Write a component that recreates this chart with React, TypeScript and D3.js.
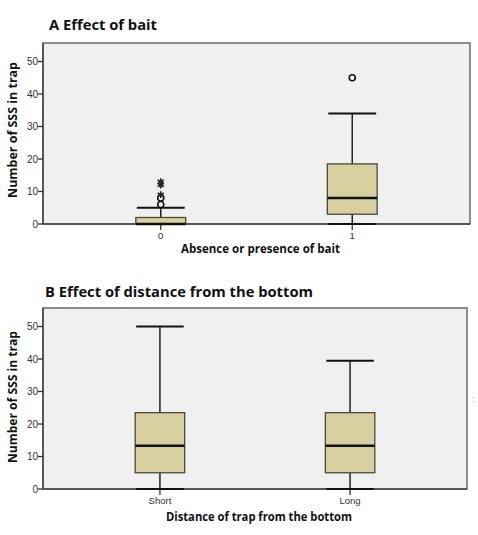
import * as d3 from "d3";

// Panel A: effect of bait
const baitCategories = ["0", "1"];
const baitLowerWhisker = [0, 0];
const baitQ1 = [0, 3];
const baitMedian = [0, 8];
const baitQ3 = [2, 18.5];
const baitUpperWhisker = [5, 34];
const baitOutliers = [[6, 8], [45]];
const baitExtremes = [[9, 12, 13], []];

// Panel B: distance of trap from the bottom
const distCategories = ["Short", "Long"];
const distLowerWhisker = [0, 0];
const distQ1 = [5, 5];
const distMedian = [13.3, 13.3];
const distQ3 = [23.5, 23.5];
const distUpperWhisker = [50, 39.5];
const distOutliers = [[], []];
const distExtremes = [[], []];

const yTicks = [0, 10, 20, 30, 40, 50];

const boxFill = "#d8d0a0";
const frameFill = "#f0f0f0";

type PanelProps = {
  top: number;
  bottom: number;
  left: number;
  right: number;
  title: string;
  titleX: number;
  titleY: number;
  titleLen: number;
  xTitle: string;
  xTitleX: number;
  xTitleY: number;
  xTitleLen: number;
  labelY: number;
  labelSize: number;
  categories: string[];
  lower: number[];
  q1: number[];
  median: number[];
  q3: number[];
  upper: number[];
  outliers: number[][];
  extremes: number[][];
};

const Panel = (p: PanelProps) => {
  const x = d3
    .scalePoint()
    .domain(p.categories)
    .range([p.left, p.right])
    .padding(0.615);
  const y = d3.scaleLinear().domain([0, 55.7]).range([p.bottom, p.top]);
  const step = x.step();
  const boxW = step * 0.26;
  const capW = step * 0.125;
  const star = d3.symbol(d3.symbolAsterisk, 36);

  return (
    <g>
      <text
        x={p.titleX}
        y={p.titleY}
        fontFamily="Open Sans"
        fontWeight="bold"
        fontSize={15}
        textLength={p.titleLen}
        lengthAdjust="spacingAndGlyphs"
        fill="#111"
      >
        {p.title}
      </text>
      <rect
        x={p.left}
        y={p.top}
        width={p.right - p.left}
        height={p.bottom - p.top}
        fill={frameFill}
        stroke="#6a6a6a"
        strokeWidth={1.5}
      />
      {/* y axis */}
      <line x1={p.left} x2={p.left} y1={p.top} y2={p.bottom} stroke="#333" strokeWidth={1.2} />
      {yTicks.map((t) => (
        <g key={t}>
          <line x1={p.left - 5} x2={p.left} y1={y(t)} y2={y(t)} stroke="#333" strokeWidth={1.3} />
          <text
            x={p.left - 5}
            y={y(t) + 3.5}
            textAnchor="end"
            fontFamily="Liberation Sans"
            fontSize={10}
            fill="#333"
          >
            {t}
          </text>
        </g>
      ))}
      {/* x axis */}
      <line x1={p.left} x2={p.right} y1={p.bottom} y2={p.bottom} stroke="#444" strokeWidth={1.5} />
      {p.categories.map((c) => (
        <g key={c}>
          <line x1={x(c)} x2={x(c)} y1={p.bottom} y2={p.bottom + 6} stroke="#333" strokeWidth={1.3} />
          <text
            x={x(c)}
            y={p.bottom + 15}
            textAnchor="middle"
            fontFamily="Liberation Sans"
            fontSize={9.5}
            fill="#333"
          >
            {c}
          </text>
        </g>
      ))}
      {/* boxes */}
      {p.categories.map((c, i) => {
        const cx = x(c) as number;
        return (
          <g key={"box" + c}>
            <line x1={cx} x2={cx} y1={y(p.lower[i])} y2={y(p.q1[i])} stroke="#222" strokeWidth={1.5} />
            <line x1={cx} x2={cx} y1={y(p.q3[i])} y2={y(p.upper[i])} stroke="#222" strokeWidth={1.5} />
            <line x1={cx - capW} x2={cx + capW} y1={y(p.upper[i])} y2={y(p.upper[i])} stroke="#111" strokeWidth={2} />
            <line x1={cx - capW} x2={cx + capW} y1={y(p.lower[i])} y2={y(p.lower[i])} stroke="#111" strokeWidth={2} />
            <rect
              x={cx - boxW / 2}
              y={y(p.q3[i])}
              width={boxW}
              height={y(p.q1[i]) - y(p.q3[i])}
              fill={boxFill}
              stroke="#4a4a3a"
              strokeWidth={1.3}
            />
            <line
              x1={cx - boxW / 2}
              x2={cx + boxW / 2}
              y1={y(p.median[i])}
              y2={y(p.median[i])}
              stroke="#111"
              strokeWidth={2.5}
            />
            {p.outliers[i].map((v) => (
              <circle key={"o" + v} cx={cx} cy={y(v)} r={3} fill="#fff" stroke="#111" strokeWidth={1.6} />
            ))}
            {p.extremes[i].map((v) => (
              <path
                key={"e" + v}
                d={star() as string}
                transform={`translate(${cx},${y(v)})`}
                fill="none"
                stroke="#222"
                strokeWidth={1.6}
              />
            ))}
          </g>
        );
      })}
      <text
        x={p.xTitleX}
        y={p.xTitleY}
        textAnchor="middle"
        fontFamily="Open Sans"
        fontWeight="bold"
        fontSize={11.5}
        textLength={p.xTitleLen}
        lengthAdjust="spacingAndGlyphs"
        fill="#111"
      >
        {p.xTitle}
      </text>
      <text
        transform={`translate(16.5,${p.labelY}) rotate(-90)`}
        textAnchor="middle"
        fontFamily="Open Sans"
        fontWeight="bold"
        fontSize={11.5}
        textLength={p.labelSize}
        lengthAdjust="spacingAndGlyphs"
        fill="#111"
      >
        Number of SSS in trap
      </text>
    </g>
  );
};

export default function App() {
  return (
    <svg
      width={478}
      height={535}
      style={{ position: "absolute", left: 0, top: 0, background: "#fff" }}
    >
      <Panel
        top={43}
        bottom={224}
        left={43}
        right={470}
        title="A Effect of bait"
        titleX={49}
        titleY={30}
        titleLen={108}
        xTitle="Absence or presence of bait"
        xTitleX={260.5}
        xTitleY={253}
        xTitleLen={159}
        labelY={130}
        labelSize={136}
        categories={baitCategories}
        lower={baitLowerWhisker}
        q1={baitQ1}
        median={baitMedian}
        q3={baitQ3}
        upper={baitUpperWhisker}
        outliers={baitOutliers}
        extremes={baitExtremes}
      />
      <Panel
        top={308}
        bottom={489}
        left={43}
        right={467}
        title="B Effect of distance from the bottom"
        titleX={45}
        titleY={296.5}
        titleLen={268}
        xTitle="Distance of trap from the bottom"
        xTitleX={259}
        xTitleY={521}
        xTitleLen={186}
        labelY={397}
        labelSize={132}
        categories={distCategories}
        lower={distLowerWhisker}
        q1={distQ1}
        median={distMedian}
        q3={distQ3}
        upper={distUpperWhisker}
        outliers={distOutliers}
        extremes={distExtremes}
      />
      <text x={472} y={402} fontFamily="Liberation Sans" fontSize={9} fill="#aaa">
        :
      </text>
    </svg>
  );
}
